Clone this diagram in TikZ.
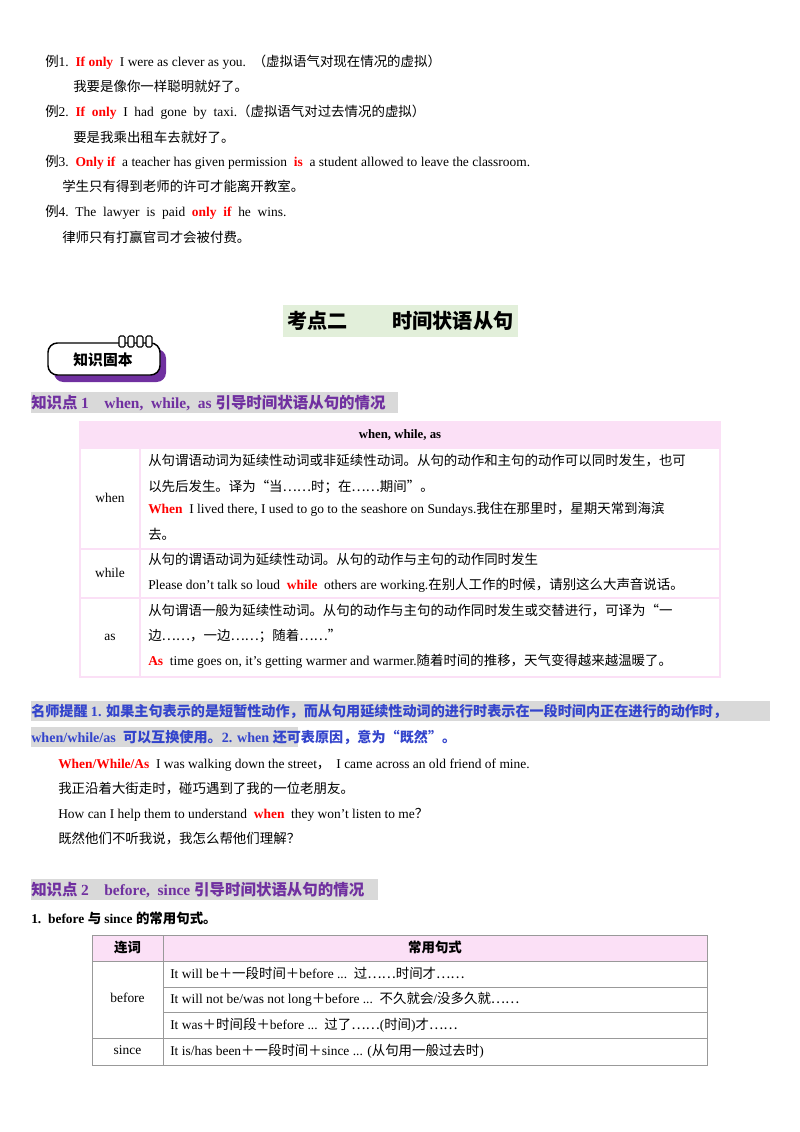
\documentclass[tikz,border=0pt]{standalone}
\usepackage{fontspec}
\setmainfont{Liberation Serif}
\newfontfamily\cjkf{Noto Sans CJK SC}
\XeTeXinterchartokenstate=1
\newXeTeXintercharclass\cjkclass
\newcount\cc
\cc="4E00 \loop\ifnum\cc<"A000 \XeTeXcharclass\cc=\cjkclass \advance\cc 1 \repeat
\cc="3000 \loop\ifnum\cc<"3040 \XeTeXcharclass\cc=\cjkclass \advance\cc 1 \repeat
\cc="FF00 \loop\ifnum\cc<"FFF0 \XeTeXcharclass\cc=\cjkclass \advance\cc 1 \repeat
\XeTeXcharclass"201C=\cjkclass \XeTeXcharclass"201D=\cjkclass \XeTeXcharclass"2026=\cjkclass
\XeTeXinterchartoks 0 \cjkclass = {\cjkf}
\XeTeXinterchartoks 4095 \cjkclass = {\cjkf}
\XeTeXinterchartoks \cjkclass 0 = {\rmfamily}
\XeTeXinterchartoks 4095 0 = {\rmfamily}
\definecolor{myred}{HTML}{FF0000}
\definecolor{mypurple}{HTML}{7030A0}
\definecolor{myblue}{HTML}{3344CC}
\definecolor{mypink}{HTML}{FBE0F6}
\definecolor{mygrey}{HTML}{D9D9D9}
\definecolor{mygreen}{HTML}{E2EFDA}
\newcommand{\R}[1]{\textcolor{myred}{\bfseries #1}}
\begin{document}
\begin{tikzpicture}[x=0.744pt,y=-0.744pt,
  ln/.style={anchor=base west,inner sep=0pt,font=\fontsize{10}{12}\selectfont},
  hd/.style={anchor=base west,inner sep=0pt,font=\fontsize{11.5}{13}\selectfont\bfseries,text=mypurple},
  tip/.style={anchor=base west,inner sep=0pt,font=\fontsize{10.5}{12}\selectfont\bfseries,text=myblue},
  cell/.style={anchor=base west,inner sep=0pt,font=\fontsize{10}{12}\selectfont},
  pk/.style={draw=mypink,line width=2.2pt},
  gr/.style={draw=gray!80,line width=0.7pt}]
\useasboundingbox (0,0) rectangle (800,1132);
\fill[white] (0,0) rectangle (800,1132);
% examples
\node[ln] (e1) at (45,66) {例1.\ \ \R{If only}\ \ I were as clever as you.\ \ （虚拟语气对现在情况的虚拟）};
\node[ln] (e1c) at (73,91) {我要是像你一样聪明就好了。};
\node[ln] (e2) at (45,116) {例2.\ \ \R{If\ \ only}\ \ I\ \ had\ \ gone\ \ by\ \ taxi.（虚拟语气对过去情况的虚拟）};
\node[ln] (e2c) at (73,142) {要是我乘出租车去就好了。};
\node[ln] (e3) at (45,166) {例3.\ \ \R{Only if}\ \ a teacher has given permission\ \ \R{is}\ \ a student allowed to leave the classroom.};
\node[ln] (e3c) at (62,191) {学生只有得到老师的许可才能离开教室。};
\node[ln] (e4) at (45,216) {例4.\ \ The\ \ lawyer\ \ is\ \ paid\ \ \R{only\ \ if}\ \ he\ \ wins.};
\node[ln] (e4c) at (62,242) {律师只有打赢官司才会被付费。};
% title
\fill[mygreen] (283,305) rectangle (518,337);
\node[anchor=center,inner sep=0pt,font=\fontsize{15}{17}\selectfont\bfseries] (title) at (400.5,321) {考点二\hspace{2.2em}时间状语从句};
% badge
\fill[mypurple] (54,349) [rounded corners=7pt] rectangle (166,382);
\draw[fill=white,line width=1.1pt,rounded corners=7pt] (48,343) rectangle (160,375);
\foreach \i in {0,1,2,3}{\draw[fill=white,line width=0.8pt,rounded corners=1pt] (119+\i*9,336) rectangle (125+\i*9,347);}
\node[anchor=center,inner sep=0pt,font=\fontsize{11}{13}\selectfont\bfseries] (badge) at (103,360) {知识固本};
% heading 1
\fill[mygrey] (31,392) rectangle (398,413);
\node[hd] (h1) at (31,408) {知识点 1\ \ \ \ when,\ \ while,\ \ as 引导时间状语从句的情况};
% table 1
\fill[mypink] (80,422) rectangle (720,448);
\draw[pk] (80,422) rectangle (720,677);
\draw[pk] (80,448) -- (720,448);
\draw[pk] (80,549) -- (720,549);
\draw[pk] (80,598) -- (720,598);
\draw[pk] (140,448) -- (140,677);
\node[anchor=center,inner sep=0pt,font=\fontsize{9.5}{11}\selectfont\bfseries] (t1h) at (400,435) {when, while, as};
\node[anchor=center,inner sep=0pt,font=\fontsize{10}{12}\selectfont] (w1) at (110,498) {when};
\node[anchor=center,inner sep=0pt,font=\fontsize{10}{12}\selectfont] (w2) at (110,573) {while};
\node[anchor=center,inner sep=0pt,font=\fontsize{10}{12}\selectfont] (w3) at (110,637) {as};
\node[cell] (c11) at (148,465) {从句谓语动词为延续性动词或非延续性动词。从句的动作和主句的动作可以同时发生，也可};
\node[cell] (c12) at (148,491) {以先后发生。译为“当……时；在……期间”。};
\node[cell] (c13) at (148,513) {\R{When}\ \ I lived there, I used to go to the seashore on Sundays.我住在那里时，星期天常到海滨};
\node[cell] (c14) at (148,539) {去。};
\node[cell] (c21) at (148,564) {从句的谓语动词为延续性动词。从句的动作与主句的动作同时发生};
\node[cell] (c22) at (148,589) {Please don't talk so loud\ \ \R{while}\ \ others are working.在别人工作的时候，请别这么大声音说话。};
\node[cell] (c31) at (148,615) {从句谓语一般为延续性动词。从句的动作与主句的动作同时发生或交替进行，可译为“一};
\node[cell] (c32) at (148,640) {边……，一边……；随着……”};
\node[cell] (c33) at (148,665) {\R{As}\ \ time goes on, it's getting warmer and warmer.随着时间的推移，天气变得越来越温暖了。};
% tip
\fill[mygrey] (31,701) rectangle (770,721);
\fill[mygrey] (31,727) rectangle (298,747);
\node[tip] (tip1) at (31,716) {名师提醒 1. 如果主句表示的是短暂性动作，而从句用延续性动词的进行时表示在一段时间内正在进行的动作时，};
\node[tip] (tip2) at (31,742) {when/while/as\ \ 可以互换使用。2. when 还可表原因，意为“既然”。};
\node[ln] (x1) at (58,768) {\R{When/While/As}\ \ I was walking down the street，\ \ I came across an old friend of mine.};
\node[ln] (x2) at (58,793) {我正沿着大街走时，碰巧遇到了我的一位老朋友。};
\node[ln] (x3) at (58,818) {How can I help them to understand\ \ \R{when}\ \ they won't listen to me？};
\node[ln] (x4) at (58,843) {既然他们不听我说，我怎么帮他们理解？};
% heading 2
\fill[mygrey] (31,879) rectangle (378,900);
\node[hd] (h2) at (31,895) {知识点 2\ \ \ \ before,\ \ since 引导时间状语从句的情况};
\node[ln,font=\fontsize{10}{12}\selectfont\bfseries] (s1) at (31,923) {1.\ \ before 与 since 的常用句式。};
% table 2
\fill[mypink] (92,935) rectangle (707,961);
\draw[gr] (92,935) rectangle (707,1065);
\draw[gr] (92,961) -- (707,961);
\draw[gr] (163,987) -- (707,987);
\draw[gr] (163,1012) -- (707,1012);
\draw[gr] (92,1038) -- (707,1038);
\draw[gr] (163,935) -- (163,1065);
\node[anchor=center,inner sep=0pt,font=\fontsize{10}{12}\selectfont\bfseries] (t2a) at (127.5,947) {连词};
\node[anchor=center,inner sep=0pt,font=\fontsize{10}{12}\selectfont\bfseries] (t2b) at (435,947) {常用句式};
\node[anchor=center,inner sep=0pt,font=\fontsize{10}{12}\selectfont] (b1) at (127.5,998) {before};
\node[anchor=center,inner sep=0pt,font=\fontsize{10}{12}\selectfont] (b2) at (127.5,1050) {since};
\node[cell] (r1) at (170,978) {It will be＋一段时间＋before ...\ \ 过……时间才……};
\node[cell] (r2) at (170,1003) {It will not be/was not long＋before ...\ \ 不久就会/没多久就……};
\node[cell] (r3) at (170,1029) {It was＋时间段＋before ...\ \ 过了……(时间)才……};
\node[cell] (r4) at (170,1055) {It is/has been＋一段时间＋since ... (从句用一般过去时)};
\end{tikzpicture}
\end{document}
